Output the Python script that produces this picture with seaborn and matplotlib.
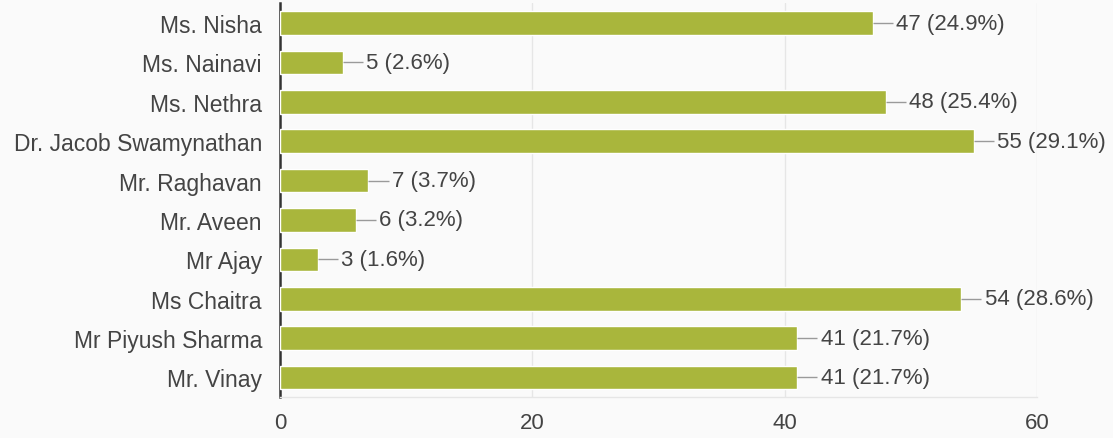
import matplotlib
matplotlib.use("Agg")
import matplotlib.pyplot as plt
import seaborn as sns
import pandas as pd

names = ["Ms. Nisha", "Ms. Nainavi", "Ms. Nethra", "Dr. Jacob Swamynathan",
         "Mr. Raghavan", "Mr. Aveen", "Mr Ajay", "Ms Chaitra",
         "Mr Piyush Sharma", "Mr. Vinay"]
counts = [47, 5, 48, 55, 7, 6, 3, 54, 41, 41]
percents = [24.9, 2.6, 25.4, 29.1, 3.7, 3.2, 1.6, 28.6, 21.7, 21.7]
xticks = [0, 20, 40, 60]

sns.set_theme(style="white")
plt.rcParams["font.family"] = ["Liberation Sans", "DejaVu Sans"]

df = pd.DataFrame({"name": names, "count": counts, "pct": percents})

fig = plt.figure(figsize=(11.13, 4.39), dpi=100)
fig.patch.set_facecolor("#fafafa")
ax = fig.add_axes([0.2516, 0.093, 0.680, 0.897])
ax.set_facecolor("#fafafa")

sns.barplot(data=df, x="count", y="name", orient="h", color="#a9b63c",
            saturation=1, width=0.6, ax=ax, zorder=3)

ax.set_xlim(0, 60)
ax.set_ylim(len(names) - 0.5, -0.5)
ax.set_xticks(xticks)
ax.set_xticklabels([str(t) for t in xticks])
ax.set_xlabel("")
ax.set_ylabel("")

# faint vertical gridlines
ax.grid(axis="x", color="#e6e6e6", linewidth=1, zorder=0)
ax.grid(axis="y", visible=False)

for side in ["top", "right"]:
    ax.spines[side].set_visible(False)
ax.spines["bottom"].set_color("#e6e6e6")
ax.spines["bottom"].set_linewidth(1)
ax.spines["left"].set_color("#333333")
ax.spines["left"].set_linewidth(1.8)

ax.tick_params(axis="y", length=0, pad=13, labelsize=16.5, labelcolor="#444444")
ax.tick_params(axis="x", length=0, pad=11, labelsize=16, labelcolor="#444444")

# value labels with short leader lines
for i, (c, p) in enumerate(zip(counts, percents)):
    ax.plot([c, c + 1.6], [i, i], color="#9a9a9a", linewidth=1.0,
            zorder=4, clip_on=False, solid_capstyle="butt")
    ax.text(c + 1.85, i, f"{c} ({p}%)", va="center", ha="left",
            fontsize=16, color="#444444", zorder=5, clip_on=False)

fig.savefig("out.png", dpi=100, facecolor=fig.get_facecolor())
